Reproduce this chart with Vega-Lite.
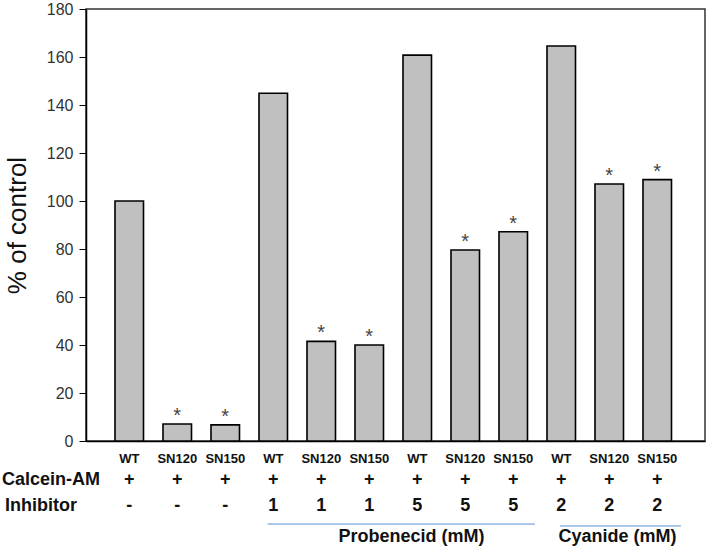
{
  "$schema": "https://vega.github.io/schema/vega-lite/v6.json",
  "width": 619,
  "height": 432,
  "autosize": {"type": "none"},
  "padding": {"left": 86, "top": 9, "right": 3, "bottom": 109},
  "background": "white",
  "config": {
    "font": "Liberation Sans",
    "view": {"stroke": "#333333", "strokeWidth": 1.5}
  },
  "data": {
    "values": [
      {"sample": "WT / none", "genotype": "WT", "calcein": "+", "inhibitor": "-", "value": 100, "sig": ""},
      {"sample": "SN120 / none", "genotype": "SN120", "calcein": "+", "inhibitor": "-", "value": 7.1, "sig": "*"},
      {"sample": "SN150 / none", "genotype": "SN150", "calcein": "+", "inhibitor": "-", "value": 6.7, "sig": "*"},
      {"sample": "WT / Probenecid 1", "genotype": "WT", "calcein": "+", "inhibitor": "1", "value": 144.9, "sig": ""},
      {"sample": "SN120 / Probenecid 1", "genotype": "SN120", "calcein": "+", "inhibitor": "1", "value": 41.5, "sig": "*"},
      {"sample": "SN150 / Probenecid 1", "genotype": "SN150", "calcein": "+", "inhibitor": "1", "value": 40.0, "sig": "*"},
      {"sample": "WT / Probenecid 5", "genotype": "WT", "calcein": "+", "inhibitor": "5", "value": 160.8, "sig": ""},
      {"sample": "SN120 / Probenecid 5", "genotype": "SN120", "calcein": "+", "inhibitor": "5", "value": 79.6, "sig": "*"},
      {"sample": "SN150 / Probenecid 5", "genotype": "SN150", "calcein": "+", "inhibitor": "5", "value": 87.2, "sig": "*"},
      {"sample": "WT / Cyanide 2", "genotype": "WT", "calcein": "+", "inhibitor": "2", "value": 164.6, "sig": ""},
      {"sample": "SN120 / Cyanide 2", "genotype": "SN120", "calcein": "+", "inhibitor": "2", "value": 107.1, "sig": "*"},
      {"sample": "SN150 / Cyanide 2", "genotype": "SN150", "calcein": "+", "inhibitor": "2", "value": 108.9, "sig": "*"}
    ]
  },
  "encoding": {
    "x": {
      "field": "sample",
      "type": "nominal",
      "sort": null,
      "scale": {"paddingInner": 0.406, "paddingOuter": 0.651, "align": 0.464},
      "axis": {
        "title": null,
        "labels": false,
        "domainColor": "#000000",
        "domainWidth": 1.5,
        "ticks": true,
        "tickSize": -3,
        "tickColor": "#333333"
      }
    }
  },
  "layer": [
    {
      "mark": {"type": "bar", "fill": "#c0c0c0", "stroke": "#000000", "strokeWidth": 1.6},
      "encoding": {
        "y": {
          "field": "value",
          "type": "quantitative",
          "scale": {"domain": [0, 180], "nice": false},
          "axis": {
            "title": "% of control",
            "titleFont": "Liberation Sans",
            "titleFontSize": 26,
            "titleFontWeight": "normal",
            "titleColor": "#111111",
            "titlePadding": 16,
            "values": [0, 20, 40, 60, 80, 100, 120, 140, 160, 180],
            "labelFontSize": 16,
            "labelColor": "#333333",
            "labelPadding": 6,
            "tickSize": 7,
            "tickColor": "#000000",
            "domainColor": "#000000",
            "domainWidth": 1.5,
            "grid": false
          }
        }
      }
    },
    {
      "mark": {"type": "text", "fontSize": 20, "color": "#444444", "baseline": "alphabetic", "dy": -2},
      "encoding": {
        "y": {"field": "value", "type": "quantitative"},
        "text": {"field": "sig"}
      }
    },
    {
      "mark": {"type": "text", "fontSize": 13, "fontWeight": "bold", "color": "#111111", "baseline": "middle"},
      "encoding": {
        "y": {"datum": -7.5, "type": "quantitative"},
        "text": {"field": "genotype"}
      }
    },
    {
      "mark": {"type": "text", "fontSize": 18, "fontWeight": "bold", "color": "#111111", "baseline": "middle"},
      "encoding": {
        "y": {"datum": -16.2, "type": "quantitative"},
        "text": {"field": "calcein"}
      }
    },
    {
      "mark": {"type": "text", "fontSize": 18, "fontWeight": "bold", "color": "#111111", "baseline": "middle"},
      "encoding": {
        "y": {"datum": -27, "type": "quantitative"},
        "text": {"field": "inhibitor"}
      }
    },
    {
      "data": {"values": [{"label": "Calcein-AM"}]},
      "mark": {"type": "text", "fontSize": 18, "fontWeight": "bold", "color": "#111111", "baseline": "middle", "align": "left"},
      "encoding": {
        "x": {"datum": "WT / none", "bandPosition": -3.96},
        "y": {"datum": -16.2, "type": "quantitative"},
        "text": {"field": "label"}
      }
    },
    {
      "data": {"values": [{"label": "Inhibitor"}]},
      "mark": {"type": "text", "fontSize": 18, "fontWeight": "bold", "color": "#111111", "baseline": "middle", "align": "left"},
      "encoding": {
        "x": {"datum": "WT / none", "bandPosition": -3.86},
        "y": {"datum": -27, "type": "quantitative"},
        "text": {"field": "label"}
      }
    },
    {
      "data": {"values": [{"group": "Probenecid (mM)"}]},
      "mark": {"type": "rule", "color": "#5b8fd0", "strokeWidth": 1},
      "encoding": {
        "x": {"datum": "WT / Probenecid 1", "bandPosition": 0.3},
        "x2": {"datum": "SN150 / Probenecid 5", "bandPosition": 1.26},
        "y": {"datum": -34.6, "type": "quantitative"}
      }
    },
    {
      "data": {"values": [{"group": "Cyanide (mM)"}]},
      "mark": {"type": "rule", "color": "#5b8fd0", "strokeWidth": 1},
      "encoding": {
        "x": {"datum": "WT / Cyanide 2", "bandPosition": 0.46},
        "x2": {"datum": "SN150 / Cyanide 2", "bandPosition": 1.33},
        "y": {"datum": -35.4, "type": "quantitative"}
      }
    },
    {
      "data": {"values": [{"group": "Probenecid (mM)"}]},
      "mark": {"type": "text", "fontSize": 18, "fontWeight": "bold", "color": "#111111", "baseline": "middle", "align": "center"},
      "encoding": {
        "x": {"datum": "WT / Probenecid 5", "bandPosition": 0.3},
        "y": {"datum": -40, "type": "quantitative"},
        "text": {"field": "group"}
      }
    },
    {
      "data": {"values": [{"group": "Cyanide (mM)"}]},
      "mark": {"type": "text", "fontSize": 18, "fontWeight": "bold", "color": "#111111", "baseline": "middle", "align": "center"},
      "encoding": {
        "x": {"datum": "SN120 / Cyanide 2", "bandPosition": 0.79},
        "y": {"datum": -40, "type": "quantitative"},
        "text": {"field": "group"}
      }
    }
  ]
}
